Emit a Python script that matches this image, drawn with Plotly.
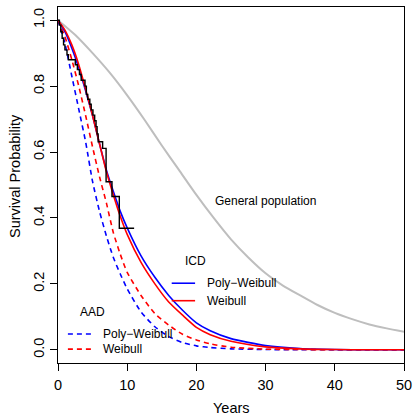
import plotly.graph_objects as go

# Kaplan-Meier estimate (step function), years vs survival
km_years = [0, 0.2, 0.4, 0.6, 0.8, 1.0, 1.3, 1.5, 2.5, 2.8, 3.1, 3.35, 3.9, 4.1, 4.3,
            4.6, 4.8, 5.05, 5.3, 5.5, 5.65, 5.8, 6.45, 6.95, 7.8, 8.86, 11.0]
km_surv = [1.0, 0.985, 0.965, 0.945, 0.925, 0.91, 0.895, 0.88, 0.865, 0.85, 0.835, 0.818, 0.80,
           0.775, 0.76, 0.745, 0.728, 0.712, 0.695, 0.677, 0.655, 0.631, 0.611, 0.51, 0.465,
           0.369, 0.369]

# Fitted curves (years, survival)
fit_years = [0, 1, 2, 3, 4, 5, 6, 7, 8, 9, 10, 12, 14, 16, 18, 20, 22, 25, 30, 35, 40, 45, 50]
icd_polyweibull = [1.0, 0.965, 0.915, 0.855, 0.785, 0.71, 0.625, 0.545, 0.48, 0.42, 0.37, 0.285,
                   0.22, 0.165, 0.12, 0.082, 0.058, 0.034, 0.013, 0.004, 0.001, 0.0, 0.0]
icd_weibull = [1.0, 0.97, 0.925, 0.865, 0.79, 0.71, 0.625, 0.54, 0.47, 0.405, 0.35, 0.265,
               0.2, 0.145, 0.105, 0.068, 0.046, 0.026, 0.009, 0.003, 0.001, 0.0, 0.0]
aad_polyweibull = [1.0, 0.93, 0.83, 0.73, 0.63, 0.51, 0.42, 0.345, 0.28, 0.23, 0.185, 0.115,
                   0.07, 0.04, 0.022, 0.012, 0.007, 0.003, 0.001, 0.0, 0.0, 0.0, 0.0]
aad_weibull = [1.0, 0.95, 0.88, 0.80, 0.71, 0.615, 0.525, 0.445, 0.355, 0.29, 0.235, 0.165,
               0.11, 0.075, 0.047, 0.03, 0.018, 0.008, 0.002, 0.001, 0.0, 0.0, 0.0]

# General population survival
pop_years = [0, 2.5, 5, 7.5, 10, 12.5, 15, 17.5, 20, 22.5, 25, 27.5, 30, 32.5, 35, 37.5,
             40, 42.5, 45, 47.5, 50]
pop_surv = [1.0, 0.955, 0.9, 0.84, 0.772, 0.698, 0.62, 0.545, 0.47, 0.4, 0.335, 0.28, 0.232,
            0.195, 0.165, 0.136, 0.112, 0.093, 0.077, 0.065, 0.055]

x_ticks = [0, 10, 20, 30, 40, 50]
y_ticks = [0.0, 0.2, 0.4, 0.6, 0.8, 1.0]

BLUE = "#0000FF"
RED = "#FF0000"
GREY = "#BEBEBE"
FONT = "Liberation Sans, Arial, sans-serif"

fig = go.Figure()

fig.add_trace(go.Scatter(x=pop_years, y=pop_surv, mode="lines",
                         line=dict(color=GREY, width=2, shape="spline", smoothing=0.6)))
fig.add_trace(go.Scatter(x=fit_years, y=aad_polyweibull, mode="lines",
                         line=dict(color=BLUE, width=1.6, dash="5px,4px", shape="spline", smoothing=0.6)))
fig.add_trace(go.Scatter(x=fit_years, y=aad_weibull, mode="lines",
                         line=dict(color=RED, width=1.6, dash="5px,4px", shape="spline", smoothing=0.6)))
fig.add_trace(go.Scatter(x=fit_years, y=icd_polyweibull, mode="lines",
                         line=dict(color=BLUE, width=1.6, shape="spline", smoothing=0.6)))
fig.add_trace(go.Scatter(x=fit_years, y=icd_weibull, mode="lines",
                         line=dict(color=RED, width=1.6, shape="spline", smoothing=0.6)))
fig.add_trace(go.Scatter(x=km_years, y=km_surv, mode="lines",
                         line=dict(color="black", width=1.4, shape="hv")))

# Legend samples
legend_lines = [
    dict(x0=16.43, x1=19.81, y=0.202, color=BLUE, dash="solid"),
    dict(x0=16.43, x1=19.81, y=0.149, color=RED, dash="solid"),
    dict(x0=1.43, x1=4.86, y=0.048, color=BLUE, dash="5px,4px"),
    dict(x0=1.43, x1=4.86, y=0.002, color=RED, dash="5px,4px"),
]
for ln in legend_lines:
    fig.add_trace(go.Scatter(x=[ln["x0"], ln["x1"]], y=[ln["y"], ln["y"]], mode="lines",
                             line=dict(color=ln["color"], width=1.6, dash=ln["dash"])))

annots = [
    dict(x=29.93, y=0.452, text="General population", xanchor="center"),
    dict(x=19.86, y=0.268, text="ICD", xanchor="center"),
    dict(x=21.24, y=0.202, text="Poly\u2212Weibull", xanchor="left"),
    dict(x=21.24, y=0.149, text="Weibull", xanchor="left"),
    dict(x=5.0, y=0.116, text="AAD", xanchor="center"),
    dict(x=6.24, y=0.048, text="Poly\u2212Weibull", xanchor="left"),
    dict(x=6.24, y=0.002, text="Weibull", xanchor="left"),
]
annotations = [dict(x=a["x"], y=a["y"], text=a["text"], xanchor=a["xanchor"], yanchor="middle",
                    xref="x", yref="y", showarrow=False,
                    font=dict(family=FONT, size=12, color="black")) for a in annots]

# Axis titles, positioned relative to the 350x357 px plot area
annotations.append(dict(x=0.5, y=-(408.5 - 363) / 357, xref="paper", yref="paper",
                        xanchor="center", yanchor="middle", text="Years", showarrow=False,
                        font=dict(family=FONT, size=14.5, color="black")))
annotations.append(dict(x=(14 - 58) / 350, y=(363 - 176) / 357, xref="paper", yref="paper",
                        xanchor="center", yanchor="middle", text="Survival Probability",
                        showarrow=False, textangle=-90,
                        font=dict(family=FONT, size=14.5, color="black")))

fig.update_layout(
    width=418, height=416,
    margin=dict(l=58, r=10, t=6, b=53),
    paper_bgcolor="white", plot_bgcolor="white",
    showlegend=False,
    annotations=annotations,
    font=dict(family=FONT, size=14.5, color="black"),
)

fig.update_xaxes(range=[0, 50], tickvals=x_ticks, ticktext=[str(v) for v in x_ticks],
                 showgrid=False, zeroline=False, showline=True, linecolor="black", linewidth=1,
                 mirror=True, ticks="outside", ticklen=7, tickcolor="black",
                 ticklabelstandoff=2,
                 tickfont=dict(family=FONT, size=14.5, color="black"))
fig.update_yaxes(range=[-0.04, 1.04], tickvals=y_ticks, ticktext=[f"{v:.1f}" for v in y_ticks],
                 tickangle=-90,
                 showgrid=False, zeroline=False, showline=True, linecolor="black", linewidth=1,
                 mirror=True, ticks="outside", ticklen=7, tickcolor="black",
                 tickfont=dict(family=FONT, size=14.5, color="black"))

fig.write_html("out.html")
